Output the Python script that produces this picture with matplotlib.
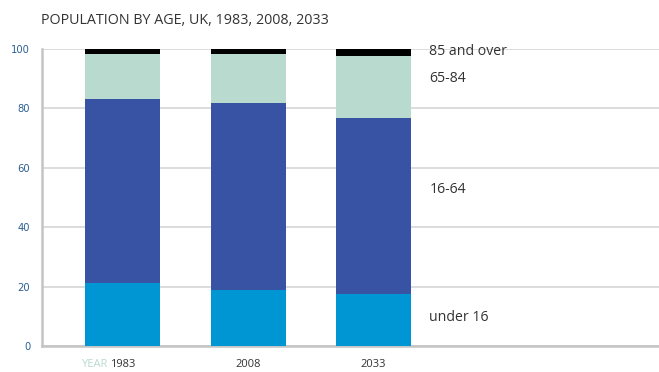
import matplotlib
matplotlib.use("Agg")
import matplotlib.pyplot as plt
import numpy as np

# Population share by age group (percent)
years = ["1983", "2008", "2033"]
groups = ["under 16", "16-64", "65-84", "85 and over"]
under_16 = [21.1, 19.0, 17.4]
age_16_64 = [62.1, 62.8, 59.2]
age_65_84 = [15.0, 16.4, 21.0]
age_85_plus = [1.8, 1.8, 2.4]
yticks = [0, 20, 40, 60, 80, 100]

series = [under_16, age_16_64, age_65_84, age_85_plus]
colors = ["#0096d3", "#3953a4", "#b9dbcf", "#000000"]

plt.rcParams["font.family"] = ["Open Sans", "DejaVu Sans"]

W, H = 659, 372
fig = plt.figure(figsize=(W / 100, H / 100), dpi=100)

# axes placed in pixel units: left 42, right 659, bottom 346, top 49
left, right, bottom, top = 42, 659, 346, 49
ax = fig.add_axes([left / W, (H - bottom) / H, (right - left) / W, (bottom - top) / H])

x = np.arange(len(years))
px_per_unit = 125.5
x0 = 122.5
ax.set_xlim((left - x0) / px_per_unit, (right - x0) / px_per_unit)
ax.set_ylim(0, 100)

base = np.zeros(len(years))
for vals, col in zip(series, colors):
    ax.bar(x, vals, bottom=base, width=75 / px_per_unit, color=col, zorder=3, linewidth=0)
    base += np.array(vals)

ax.set_yticks(yticks)
ax.set_yticklabels([str(t) for t in yticks], color="#2b5f94", fontsize=7.2,
                   family=["DejaVu Sans"])
ax.yaxis.grid(True, color="#d6d6d6", linewidth=1.2, zorder=0)
ax.tick_params(axis="y", length=0, pad=8.5)
ax.tick_params(axis="x", length=0)
ax.set_xticks([])

for s in ["top", "right"]:
    ax.spines[s].set_visible(False)
ax.spines["left"].set_color("#c4c4c4")
ax.spines["left"].set_linewidth(1.8)
ax.spines["bottom"].set_color("#c4c4c4")
ax.spines["bottom"].set_linewidth(1.8)

# year labels under each bar
for xi, yr in zip(x, years):
    ax.text(xi, -6.2, yr, ha="center", va="center", fontsize=8, color="#333333")
ax.text(x[0] - 0.1, -6.2, "YEAR ", ha="right", va="center", fontsize=8, color="#b9dbcf")

# group labels on the right
label_x = 2.445
label_y = {"85 and over": 99.0, "65-84": 90.1, "16-64": 52.7, "under 16": 9.6}
for g in groups:
    ax.text(label_x, label_y[g], g, ha="left", va="center", fontsize=10.2, color="#333333")

fig.text(41 / W, 1 - 21 / H, "POPULATION BY AGE, UK, 1983, 2008, 2033",
         ha="left", va="center", fontsize=10.3, color="#333333")

fig.savefig("out.png", dpi=100)
